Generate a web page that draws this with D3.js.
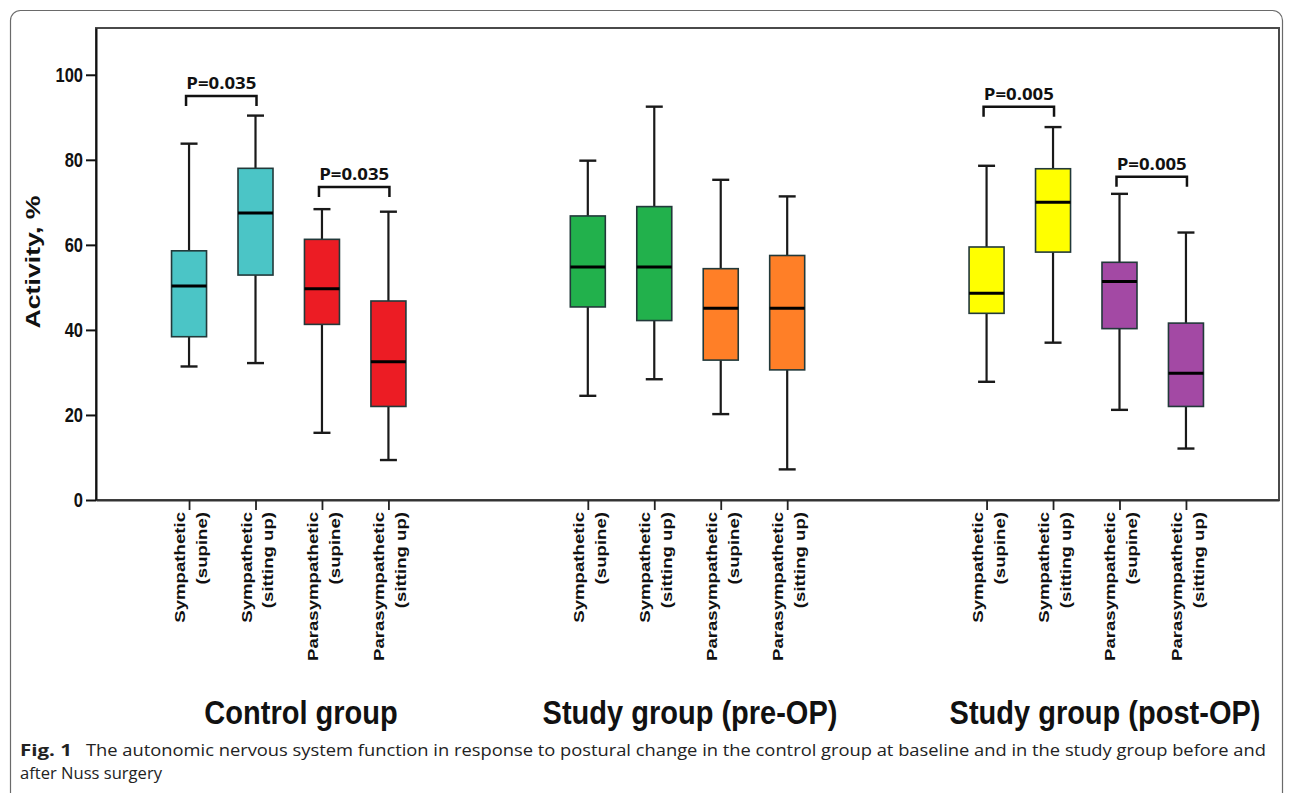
<!DOCTYPE html>
<html><head><meta charset="utf-8">
<script src="https://cdn.jsdelivr.net/npm/d3@7"></script>
<style>body{margin:0;background:#fff}svg{display:block}</style>
</head><body>
<svg id="c" width="1292" height="793"></svg>
<script>
// ---------- data ----------
const groups = ["Control group", "Study group (pre-OP)", "Study group (post-OP)"];
const labelLine1 = ["Sympathetic", "Sympathetic", "Parasympathetic", "Parasympathetic"];
const labelLine2 = ["(supine)", "(sitting up)", "(supine)", "(sitting up)"];
const boxColors = ["#4BC5C6", "#4BC5C6", "#EC1C24", "#EC1C24",
                   "#22B14C", "#22B14C", "#FF7F27", "#FF7F27",
                   "#FFFF00", "#FFFF00", "#A349A4", "#A349A4"];
const whiskerLow  = [31.4, 32.2, 15.8, 9.4,   24.5, 28.4, 20.2, 7.2,   27.8, 37.0, 21.2, 12.1];
const q1          = [38.4, 52.9, 41.3, 22.0,  45.4, 42.2, 32.9, 30.6,  43.9, 58.3, 40.3, 22.0];
const median      = [50.3, 67.5, 49.7, 32.5,  54.8, 54.8, 45.1, 45.1,  48.6, 70.0, 51.4, 29.8];
const q3          = [58.6, 78.0, 61.3, 46.8,  66.8, 69.0, 54.4, 57.5,  59.5, 77.9, 55.9, 41.6];
const whiskerHigh = [83.8, 90.4, 68.4, 67.8,  79.8, 92.5, 75.3, 71.4,  78.6, 87.7, 72.0, 62.9];
const yTicks = [0, 20, 40, 60, 80, 100];
// significance brackets: box index from, to, level (activity %), label
const pFrom  = [0, 2, 8, 10];
const pTo    = [1, 3, 9, 11];
const pLevel = [95.0, 73.6, 92.5, 76.0];
const pText  = ["P=0.035", "P=0.035", "P=0.005", "P=0.005"];

// ---------- layout ----------
const svg = d3.select("#c");
const L = 96, R = 1279, T = 28, B = 500;
const slotOf = i => Math.floor(i / 4) * 6 + (i % 4);
const x = d3.scalePoint().domain(d3.range(16)).range([L, R]).padding(1.4);
const y = d3.scaleLinear().domain([0, 111]).range([B, T]);
const boxW = 35, capW = 17;

// outer rounded border
svg.append("rect").attr("x", 10.5).attr("y", 10.5).attr("width", 1272).attr("height", 800)
  .attr("rx", 10).attr("fill", "none").attr("stroke", "#6a6a6a").attr("stroke-width", 1.2);

// plot frame
svg.append("rect").attr("x", L).attr("y", T).attr("width", R - L).attr("height", B - T)
  .attr("fill", "none").attr("stroke", "#4a4a4a").attr("stroke-width", 2);

// y axis
const ya = svg.append("g").attr("transform", `translate(${L},0)`)
  .call(d3.axisLeft(y).tickValues(yTicks).tickSize(10).tickSizeOuter(0).tickPadding(3));
ya.select(".domain").attr("stroke", "#111").attr("stroke-width", 2);
ya.selectAll(".tick line").attr("stroke", "#111").attr("stroke-width", 2);
ya.selectAll(".tick text")
  .attr("font-family", "'Liberation Sans', Arial, sans-serif")
  .attr("font-weight", "bold").attr("font-size", 16.5).attr("fill", "#111")
  .attr("dy", null).attr("y", 0)
  .attr("transform", "scale(1,1.2)")
  .attr("dominant-baseline", "central");

// x axis
const boxIdx = d3.range(12);
const xa = svg.append("g").attr("transform", `translate(0,${B})`)
  .call(d3.axisBottom(x).tickValues(boxIdx.map(slotOf)).tickSize(10).tickSizeOuter(0).tickFormat(""));
xa.select(".domain").attr("stroke", "#333").attr("stroke-width", 2);
xa.selectAll(".tick line").attr("stroke", "#222").attr("stroke-width", 1.8);

// x tick labels (rotated, two lines)
const lab = svg.append("g").selectAll("g").data(boxIdx).join("g")
  .attr("transform", i => `translate(${x(slotOf(i))},512) rotate(-90) scale(1.33,1)`)
  .attr("font-family", "'Liberation Sans', Arial, sans-serif")
  .attr("font-weight", "bold").attr("font-size", 14).attr("fill", "#111")
  .attr("text-anchor", "end");
lab.append("text").attr("x", 0).attr("y", -4).text(i => labelLine1[i % 4]);
lab.append("text").attr("x", 0).attr("y", 18).text(i => labelLine2[i % 4]);

// y axis title
svg.append("text")
  .attr("transform", "translate(40,262) rotate(-90) scale(1.37,1)")
  .attr("text-anchor", "middle")
  .attr("font-family", "'Liberation Sans', Arial, sans-serif")
  .attr("font-weight", "bold").attr("font-size", 19.5).attr("fill", "#111")
  .text("Activity, %");

// boxes
const bg = svg.append("g").selectAll("g").data(boxIdx).join("g")
  .attr("transform", i => `translate(${x(slotOf(i))},0)`);
bg.append("line").attr("x1", 0).attr("x2", 0)
  .attr("y1", i => y(whiskerHigh[i])).attr("y2", i => y(q3[i]))
  .attr("stroke", "#1a1a1a").attr("stroke-width", 2.2);
bg.append("line").attr("x1", 0).attr("x2", 0)
  .attr("y1", i => y(q1[i])).attr("y2", i => y(whiskerLow[i]))
  .attr("stroke", "#1a1a1a").attr("stroke-width", 2.2);
bg.append("line").attr("x1", -capW / 2).attr("x2", capW / 2)
  .attr("y1", i => y(whiskerHigh[i])).attr("y2", i => y(whiskerHigh[i]))
  .attr("stroke", "#1a1a1a").attr("stroke-width", 2.4);
bg.append("line").attr("x1", -capW / 2).attr("x2", capW / 2)
  .attr("y1", i => y(whiskerLow[i])).attr("y2", i => y(whiskerLow[i]))
  .attr("stroke", "#1a1a1a").attr("stroke-width", 2.4);
bg.append("rect").attr("x", -boxW / 2).attr("width", boxW)
  .attr("y", i => y(q3[i])).attr("height", i => y(q1[i]) - y(q3[i]))
  .attr("fill", i => boxColors[i]).attr("stroke", "#22393a").attr("stroke-width", 1.6);
bg.append("line").attr("x1", -boxW / 2).attr("x2", boxW / 2)
  .attr("y1", i => y(median[i])).attr("y2", i => y(median[i]))
  .attr("stroke", "#000").attr("stroke-width", 3);

// significance brackets
const br = svg.append("g").selectAll("g").data(d3.range(pText.length)).join("g");
br.append("path")
  .attr("d", k => {
    const x1 = x(slotOf(pFrom[k])) - 3, x2 = x(slotOf(pTo[k])) + 1, yy = y(pLevel[k]);
    return `M${x1},${yy + 10}V${yy}H${x2}V${yy + 10}`;
  })
  .attr("fill", "none").attr("stroke", "#111").attr("stroke-width", 2.5);
br.append("text")
  .attr("x", k => (x(slotOf(pFrom[k])) + x(slotOf(pTo[k]))) / 2 - 1)
  .attr("y", k => y(pLevel[k]) - 7)
  .attr("text-anchor", "middle")
  .attr("font-family", "'Open Sans', 'Noto Sans', sans-serif")
  .attr("font-weight", "bold").attr("font-size", 16).attr("fill", "#111")
  .attr("textLength", 70).attr("lengthAdjust", "spacingAndGlyphs")
  .text(k => pText[k]);

// group labels
const groupX = [301, 690, 1105];
svg.append("g").selectAll("text").data(groups).join("text")
  .attr("transform", (d, i) => `translate(${groupX[i]},724) scale(1,1.15)`)
  .attr("text-anchor", "middle")
  .attr("font-family", "'Liberation Sans', Arial, sans-serif")
  .attr("font-weight", "bold").attr("font-size", 29).attr("fill", "#111")
  .text(d => d);

// caption
const cap = svg.append("g").attr("font-family", "'Open Sans', 'Noto Sans', sans-serif").attr("fill", "#222");
cap.append("text").attr("x", 20).attr("y", 756).attr("font-weight", "bold").attr("font-size", 16.5)
  .attr("textLength", 52).attr("lengthAdjust", "spacingAndGlyphs").text("Fig. 1");
cap.append("text").attr("x", 86).attr("y", 756).attr("font-size", 16.5)
  .attr("textLength", 1180).attr("lengthAdjust", "spacingAndGlyphs")
  .text("The autonomic nervous system function in response to postural change in the control group at baseline and in the study group before and");
cap.append("text").attr("x", 20).attr("y", 779).attr("font-size", 16.5)
  .attr("textLength", 142).attr("lengthAdjust", "spacingAndGlyphs")
  .text("after Nuss surgery");
</script>
</body></html>
